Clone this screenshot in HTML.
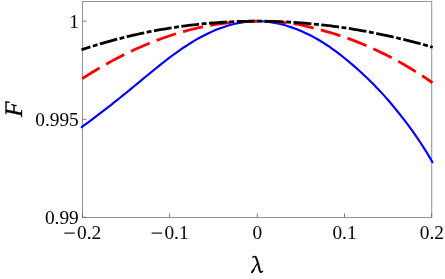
<!DOCTYPE html>
<html><head><meta charset="utf-8"><style>
html,body{margin:0;padding:0;background:#fff;}
svg{display:block;will-change:transform;}
text{font-family:"Liberation Serif",serif;fill:#000;}
</style></head><body>
<svg width="445" height="279" viewBox="0 0 445 279">
<rect width="445" height="279" fill="#fff"/>
<path d="M82.5,1.5 H431.7 V217.4 H82.5 Z" stroke="#949494" stroke-width="1.05" fill="none"/>
<path d="M82.45,217.4 v-4 M169.6,217.4 v-4 M257.25,217.4 v-4 M344.5,217.4 v-4 M431.65,217.4 v-4 M82.5,21.2 h4 M82.5,119.30 h4 M82.5,217.3 h4" stroke="#606060" stroke-width="0.8" fill="none"/>
<path d="M81.70,127.14 L84.65,124.98 L87.60,122.81 L90.54,120.62 L93.49,118.41 L96.44,116.18 L99.39,113.93 L102.34,111.67 L105.28,109.39 L108.23,107.09 L111.18,104.78 L114.13,102.45 L117.07,100.11 L120.02,97.76 L122.97,95.39 L125.92,93.00 L128.87,90.61 L131.81,88.20 L134.76,85.77 L137.71,83.33 L140.66,80.88 L143.61,78.43 L146.55,75.99 L149.50,73.56 L152.45,71.15 L155.40,68.77 L158.35,66.40 L161.29,64.06 L164.24,61.74 L167.19,59.45 L170.14,57.20 L173.08,55.00 L176.03,52.85 L178.98,50.76 L181.93,48.73 L184.88,46.75 L187.82,44.83 L190.77,42.97 L193.72,41.17 L196.67,39.44 L199.62,37.78 L202.56,36.19 L205.51,34.67 L208.46,33.22 L211.41,31.85 L214.36,30.55 L217.30,29.33 L220.25,28.19 L223.20,27.14 L226.15,26.16 L229.09,25.27 L232.04,24.46 L234.99,23.75 L237.94,23.12 L240.89,22.57 L243.83,22.12 L246.78,21.76 L249.73,21.48 L252.68,21.30 L255.63,21.21 L258.57,21.21 L261.52,21.30 L264.47,21.48 L267.42,21.76 L270.37,22.12 L273.31,22.57 L276.26,23.11 L279.21,23.74 L282.16,24.46 L285.11,25.27 L288.05,26.16 L291.00,27.13 L293.95,28.19 L296.90,29.33 L299.84,30.55 L302.79,31.84 L305.74,33.18 L308.69,34.58 L311.64,36.05 L314.58,37.60 L317.53,39.24 L320.48,40.98 L323.43,42.82 L326.38,44.73 L329.32,46.72 L332.27,48.79 L335.22,50.92 L338.17,53.13 L341.12,55.40 L344.06,57.73 L347.01,60.12 L349.96,62.57 L352.91,65.08 L355.85,67.64 L358.80,70.27 L361.75,72.96 L364.70,75.71 L367.65,78.53 L370.59,81.41 L373.54,84.36 L376.49,87.38 L379.44,90.47 L382.39,93.64 L385.33,96.89 L388.28,100.27 L391.23,103.76 L394.18,107.35 L397.13,110.99 L400.07,114.67 L403.02,118.39 L405.97,122.21 L408.92,126.12 L411.86,130.15 L414.81,134.29 L417.76,138.57 L420.71,142.99 L423.66,147.56 L426.60,152.28 L429.55,157.17 L432.50,162.23" fill="none" stroke="#0000ff" stroke-width="2.15" stroke-linecap="round"/>
<path d="M82.30,78.64 L85.24,76.75 L88.19,74.89 L91.13,73.06 L94.07,71.26 L97.01,69.49 L99.96,67.75 L102.90,66.04 L105.84,64.37 L108.79,62.73 L111.73,61.11 L114.67,59.53 L117.61,57.98 L120.56,56.46 L123.50,54.97 L126.44,53.52 L129.39,52.09 L132.33,50.70 L135.27,49.34 L138.21,48.01 L141.16,46.71 L144.10,45.44 L147.04,44.20 L149.99,43.00 L152.93,41.83 L155.87,40.69 L158.81,39.58 L161.76,38.50 L164.70,37.46 L167.64,36.45 L170.59,35.47 L173.53,34.52 L176.47,33.60 L179.41,32.72 L182.36,31.87 L185.30,31.05 L188.24,30.26 L191.19,29.51 L194.13,28.79 L197.07,28.10 L200.01,27.44 L202.96,26.82 L205.90,26.22 L208.84,25.67 L211.79,25.14 L214.73,24.65 L217.67,24.19 L220.61,23.76 L223.56,23.36 L226.50,23.00 L229.44,22.67 L232.39,22.38 L235.33,22.11 L238.27,21.88 L241.21,21.69 L244.16,21.52 L247.10,21.39 L250.04,21.30 L252.99,21.23 L255.93,21.20 L258.87,21.21 L261.81,21.24 L264.76,21.31 L267.70,21.41 L270.64,21.54 L273.59,21.70 L276.53,21.90 L279.47,22.12 L282.41,22.38 L285.36,22.68 L288.30,23.01 L291.24,23.37 L294.19,23.78 L297.13,24.22 L300.07,24.72 L303.01,25.37 L305.96,26.11 L308.90,26.88 L311.84,27.63 L314.79,28.37 L317.73,29.14 L320.67,29.93 L323.61,30.72 L326.56,31.53 L329.50,32.36 L332.44,33.22 L335.39,34.12 L338.33,35.05 L341.27,36.02 L344.21,37.03 L347.16,38.07 L350.10,39.14 L353.04,40.25 L355.99,41.40 L358.93,42.58 L361.87,43.79 L364.81,45.03 L367.76,46.31 L370.70,47.62 L373.64,48.96 L376.59,50.32 L379.53,51.71 L382.47,53.13 L385.41,54.58 L388.36,56.06 L391.30,57.58 L394.24,59.13 L397.19,60.72 L400.13,62.35 L403.07,64.01 L406.01,65.72 L408.96,67.47 L411.90,69.25 L414.84,71.07 L417.79,72.93 L420.73,74.82 L423.67,76.75 L426.61,78.71 L429.56,80.72 L432.50,82.76" fill="none" stroke="#ff0000" stroke-width="2.8" stroke-dasharray="20.45 7.46" stroke-dashoffset="0"/>
<path d="M81.50,49.78 L84.17,48.90 L86.84,48.04 L89.51,47.18 L92.18,46.34 L94.86,45.52 L97.53,44.71 L100.20,43.91 L102.87,43.13 L105.54,42.36 L108.21,41.61 L110.88,40.87 L113.55,40.15 L116.22,39.44 L118.89,38.74 L121.57,38.06 L124.24,37.39 L126.91,36.73 L129.58,36.09 L132.25,35.46 L134.92,34.85 L137.59,34.25 L140.26,33.67 L142.93,33.09 L145.60,32.54 L148.28,31.99 L150.95,31.46 L153.62,30.94 L156.29,30.44 L158.96,29.95 L161.63,29.48 L164.30,29.01 L166.97,28.57 L169.64,28.13 L172.31,27.71 L174.99,27.30 L177.66,26.91 L180.33,26.53 L183.00,26.16 L185.67,25.80 L188.34,25.46 L191.01,25.14 L193.68,24.82 L196.35,24.52 L199.02,24.23 L201.70,23.96 L204.37,23.70 L207.04,23.45 L209.71,23.21 L212.38,22.99 L215.05,22.78 L217.72,22.59 L220.39,22.40 L223.06,22.24 L225.73,22.08 L228.41,21.93 L231.08,21.80 L233.75,21.69 L236.42,21.58 L239.09,21.49 L241.76,21.41 L244.43,21.34 L247.10,21.29 L249.77,21.25 L252.44,21.22 L255.12,21.20 L257.79,21.20 L260.46,21.21 L263.13,21.23 L265.80,21.27" fill="none" stroke="#000" stroke-width="2.8" stroke-dasharray="17.9 2.5 4.9 2.5" stroke-dashoffset="8.5"/>
<path d="M265.80,21.27 L268.22,21.31 L270.64,21.36 L273.06,21.42 L275.48,21.50 L277.89,21.58 L280.31,21.67 L282.73,21.78 L285.15,21.89 L287.57,22.02 L289.99,22.15 L292.41,22.29 L294.83,22.45 L297.24,22.61 L299.66,22.79 L302.08,22.97 L304.50,23.16 L306.92,23.37 L309.34,23.58 L311.76,23.81 L314.18,24.04 L316.60,24.29 L319.01,24.54 L321.43,24.80 L323.85,25.08 L326.27,25.36 L328.69,25.65 L331.11,25.95 L333.53,26.27 L335.95,26.59 L338.37,26.92 L340.78,27.26 L343.20,27.61 L345.62,27.98 L348.04,28.35 L350.46,28.73 L352.88,29.12 L355.30,29.52 L357.72,29.92 L360.13,30.34 L362.55,30.77 L364.97,31.21 L367.39,31.66 L369.81,32.11 L372.23,32.58 L374.65,33.05 L377.07,33.54 L379.49,34.03 L381.90,34.54 L384.32,35.05 L386.74,35.57 L389.16,36.10 L391.58,36.64 L394.00,37.19 L396.42,37.75 L398.84,38.32 L401.26,38.90 L403.67,39.48 L406.09,40.08 L408.51,40.68 L410.93,41.30 L413.35,41.92 L415.77,42.55 L418.19,43.19 L420.61,43.84 L423.02,44.50 L425.44,45.17 L427.86,45.85 L430.28,46.53 L432.70,47.23" fill="none" stroke="#000" stroke-width="2.8" stroke-dasharray="17.9 2.5 4.9 2.5" stroke-dashoffset="0"/>
<g font-size="19.35px">
<rect x="64.31" y="232.55" width="10.5" height="1.1" fill="#000"/><text x="77.11" y="238.7">0.2</text>
<rect x="151.61" y="232.55" width="10.5" height="1.1" fill="#000"/><text x="164.41" y="238.7">0.1</text>
<text x="252.43" y="238.7">0</text>
<text x="332.41" y="238.7">0.1</text>
<text x="419.71" y="238.7">0.2</text>
<text x="78.8" y="27.60" text-anchor="end">1</text>
<text x="78.8" y="125.70" text-anchor="end">0.995</text>
<text x="78.8" y="223.80" text-anchor="end">0.99</text>
</g>
<g fill="none" stroke="#000" stroke-linecap="round" stroke-linejoin="round">
<path d="M252.8,257.5 C253.2,256.4 254.6,256.0 255.6,257.0" stroke-width="1.3"/>
<path d="M255.6,257.0 C257.6,260.0 258.4,265.5 259.6,270.0 C259.9,271.2 260.3,271.8 260.9,272.0" stroke-width="2.0"/>
<path d="M260.6,271.9 C261.4,272.3 262.2,271.9 262.7,271.2" stroke-width="1.2"/>
<path d="M256.9,264.0 L252.2,272.0" stroke-width="1.3"/>
<path d="M253.7,269.8 L251.9,272.3" stroke-width="1.9"/>
</g>
<text transform="translate(22.4,109.6) rotate(-90) scale(1,1.03) skewX(-2.5)" text-anchor="middle" font-size="24.5px" font-style="italic" stroke="#000" stroke-width="0.35">F</text>
</svg>
</body></html>
